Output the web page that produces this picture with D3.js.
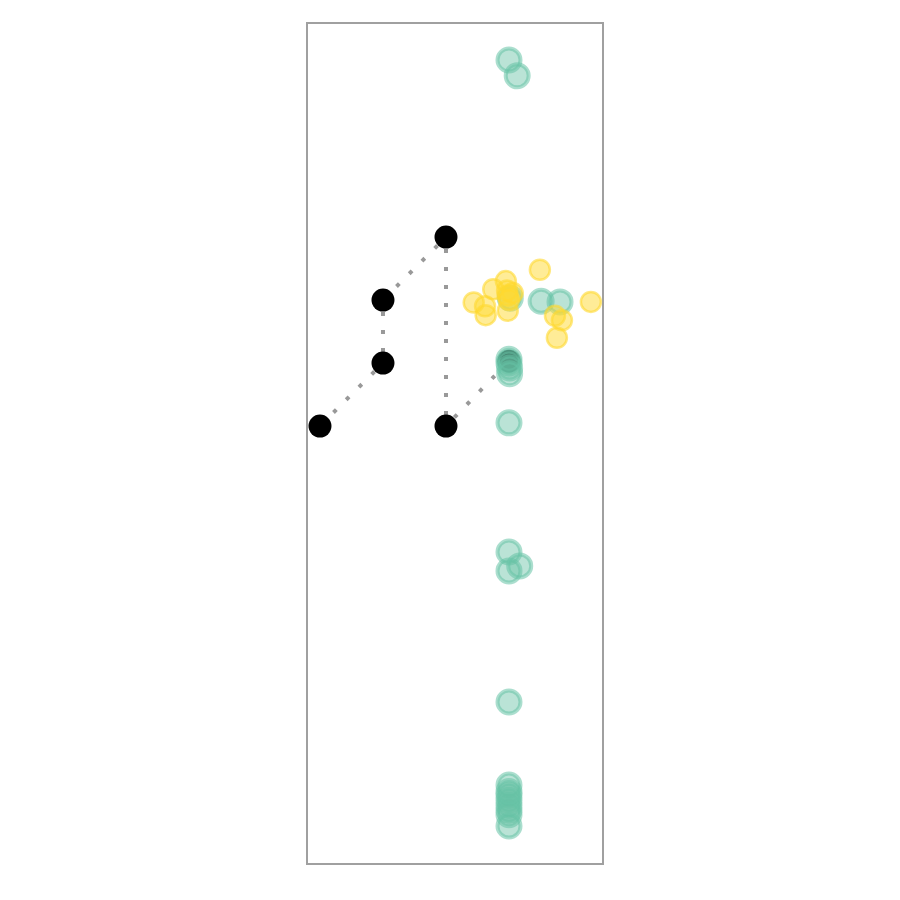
<!DOCTYPE html>
<html>
<head>
<meta charset="utf-8">
<script src="https://cdn.jsdelivr.net/npm/d3@7"></script>
<style>
  html, body { margin: 0; padding: 0; background: #fff; }
  svg { display: block; }
</style>
</head>
<body>
<svg id="chart" width="900" height="900"></svg>
<script>
// Tree nodes (column, row)
const treeNodes = [
  { id: "root", col: 2, row: 0 },
  { id: "a",    col: 1, row: 1 },
  { id: "b",    col: 1, row: 2 },
  { id: "c",    col: 0, row: 3 },
  { id: "d",    col: 2, row: 3 },
  { id: "e",    col: 3, row: 1.97 }
];
const treeLinks = [
  ["root", "a"], ["root", "d"], ["a", "b"], ["b", "c"], ["d", "e"]
];

// Green points (column, row)
const greenCols = [3.00, 3.13, 3.51, 3.81, 3.02, 3.00, 3.00, 3.01, 3.01, 3.00, 3.00, 3.00, 3.17, 3.00, 3.00, 3.00, 3.00, 3.00, 3.00, 3.00, 3.00, 3.00];
const greenRows = [-2.81, -2.56, 1.02, 1.03, 0.97, 1.94, 2.00, 2.08, 2.17, 2.95, 5.00, 5.30, 5.22, 7.38, 8.70, 8.86, 8.94, 9.02, 9.10, 9.17, 9.35, 8.80];

// Yellow points (column, row)
const yellowCols = [3.49, 2.95, 2.75, 2.44, 2.63, 2.62, 2.98, 2.98, 3.06, 4.30, 3.73, 3.84, 3.76, 3.00, 2.97];
const yellowRows = [0.52, 0.70, 0.83, 1.04, 1.24, 1.10, 1.17, 0.93, 0.89, 1.03, 1.25, 1.32, 1.60, 1.00, 0.85];

const svg = d3.select("#chart");

const x = d3.scaleLinear().domain([-0.206, 4.492]).range([307, 603]);
const y = d3.scaleLinear().domain([-3.397, 9.952]).range([23, 864]);

// frame
svg.append("rect")
  .attr("x", x(-0.206)).attr("y", y(-3.397))
  .attr("width", x(4.492) - x(-0.206))
  .attr("height", y(9.952) - y(-3.397))
  .attr("fill", "none")
  .attr("stroke", "#a0a0a0")
  .attr("stroke-width", 2);

const byId = new Map(treeNodes.map(d => [d.id, d]));

// links
svg.append("g")
  .selectAll("line")
  .data(treeLinks)
  .join("line")
  .attr("x1", d => x(byId.get(d[0]).col))
  .attr("y1", d => y(byId.get(d[0]).row))
  .attr("x2", d => x(byId.get(d[1]).col))
  .attr("y2", d => y(byId.get(d[1]).row))
  .attr("stroke", "#999")
  .attr("stroke-width", 4)
  .attr("stroke-dasharray", "4,14")
  .attr("stroke-dashoffset", -12);

// tree nodes
svg.append("g")
  .selectAll("circle")
  .data(treeNodes)
  .join("circle")
  .attr("cx", d => x(d.col))
  .attr("cy", d => y(d.row))
  .attr("r", 11.5)
  .attr("fill", "#000");

// green points
svg.append("g")
  .selectAll("circle")
  .data(d3.range(greenCols.length))
  .join("circle")
  .attr("cx", i => x(greenCols[i]))
  .attr("cy", i => y(greenRows[i]))
  .attr("r", 11.5)
  .attr("fill", "#66c2a5")
  .attr("fill-opacity", 0.45)
  .attr("stroke", "#66c2a5")
  .attr("stroke-opacity", 0.55)
  .attr("stroke-width", 4);

// yellow points
svg.append("g")
  .selectAll("circle")
  .data(d3.range(yellowCols.length))
  .join("circle")
  .attr("cx", i => x(yellowCols[i]))
  .attr("cy", i => y(yellowRows[i]))
  .attr("r", 10)
  .attr("fill", "#ffd92f")
  .attr("fill-opacity", 0.5)
  .attr("stroke", "#ffd92f")
  .attr("stroke-opacity", 0.6)
  .attr("stroke-width", 2.5);
</script>
</body>
</html>
